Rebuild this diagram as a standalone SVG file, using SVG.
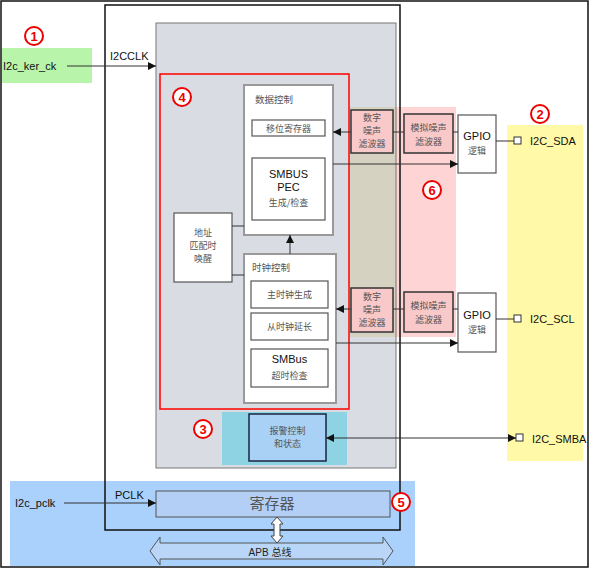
<svg xmlns="http://www.w3.org/2000/svg" width="590" height="570" viewBox="0 0 590 570">
<defs>
<marker id="ah" viewBox="0 0 10 10" refX="10" refY="5" markerWidth="8" markerHeight="8" markerUnits="userSpaceOnUse" orient="auto-start-reverse">
<path d="M0,0 L10,5 L0,10 z" fill="#111"/>
</marker>
<style>
.en{font-family:"Liberation Sans",Arial,sans-serif;font-size:11px;fill:#111}
.zh{font-family:"Noto Sans CJK SC","Noto Sans",sans-serif;font-size:9.5px;fill:#555}
.zhc{font-family:"Noto Sans CJK SC","Noto Sans",sans-serif;font-size:9px;fill:#555;text-anchor:middle}
.enc{font-family:"Liberation Sans",Arial,sans-serif;font-size:11px;fill:#111;text-anchor:middle}
.wbox{fill:#fff;stroke:#555;stroke-width:1.2}
.gbox{fill:#fff;stroke:#999;stroke-width:2}
.filt{fill:#f9c8c8;stroke:#333;stroke-width:1.5}
.ln{stroke:#333;stroke-width:1;fill:none}
.num circle{fill:#fff;stroke:#e00;stroke-width:2}
.num text{font-family:"Liberation Sans",Arial,sans-serif;font-size:13px;font-weight:bold;fill:#e00;text-anchor:middle}
.pin{fill:#fff;stroke:#333;stroke-width:1}
</style>
</defs>
<rect x="1" y="1" width="587" height="566" fill="#fff" stroke="#111" stroke-width="1.5"/>

<g id="regions">
<rect x="2" y="48" width="90" height="35" fill="#b8f5aa"/>
<rect x="507" y="125" width="76" height="336" fill="#fff9a8"/>
<rect x="10" y="481" width="405" height="85" fill="#a9d1fb"/>
</g>

<g id="main">
<rect x="105" y="5" width="295" height="525" fill="none" stroke="#111" stroke-width="1.5"/>
<rect x="156" y="23" width="240" height="445" fill="#d9dde3" stroke="#777" stroke-width="1"/>
</g>

<g id="region6">
<rect x="349" y="107" width="107" height="230" fill="#ffd4d4"/>
<rect x="349" y="107" width="47" height="230" fill="#d6d2c2"/>
<line x1="396" y1="107" x2="396" y2="337" stroke="#777" stroke-width="1"/>
<line x1="400" y1="107" x2="400" y2="337" stroke="#111" stroke-width="1.5"/>
</g>

<g id="region3">
<rect x="222" y="412" width="125" height="53" fill="#8dd3e3"/>
</g>

<g id="region4">
<rect x="160" y="74" width="189" height="335" fill="none" stroke="#f00" stroke-width="1.5"/>
</g>

<g id="data-ctrl">
<rect class="gbox" x="244" y="85" width="89" height="150"/>
<text class="zh" x="255" y="103">数据控制</text>
</g>
<g id="shift-reg">
<rect class="wbox" x="252" y="120" width="73" height="16"/>
<text class="zhc" x="288.5" y="131.5" font-size="9.5">移位寄存器</text>
</g>
<g id="smbus-pec">
<rect class="wbox" x="252" y="158" width="73" height="62"/>
<text class="enc" x="288.5" y="178">SMBUS</text>
<text class="enc" x="288.5" y="191">PEC</text>
<text class="zhc" x="288.5" y="206">生成/检查</text>
</g>
<g id="addr-wake">
<rect class="wbox" x="174" y="213" width="58" height="69" stroke-width="1.5"/>
<text class="zhc" x="203" y="236">地址</text>
<text class="zhc" x="203" y="249">匹配时</text>
<text class="zhc" x="203" y="262">唤醒</text>
</g>
<g id="clk-ctrl">
<rect class="gbox" x="244" y="254" width="92" height="149"/>
<text class="zh" x="252" y="271">时钟控制</text>
</g>
<g id="master-clk">
<rect class="wbox" x="251" y="281" width="77" height="27"/>
<text class="zhc" x="289.5" y="298" font-size="9.5">主时钟生成</text>
</g>
<g id="slave-clk">
<rect class="wbox" x="251" y="313" width="77" height="27"/>
<text class="zhc" x="289.5" y="330" font-size="9.5">从时钟延长</text>
</g>
<g id="smbus-timeout">
<rect class="wbox" x="251" y="349" width="77" height="38"/>
<text class="enc" x="289.5" y="363">SMBus</text>
<text class="zhc" x="289.5" y="379">超时检查</text>
</g>

<g id="dnf-sda">
<rect class="filt" x="351" y="110" width="42" height="43"/>
<text class="zhc" x="372" y="121">数字</text>
<text class="zhc" x="372" y="134">噪声</text>
<text class="zhc" x="372" y="147">滤波器</text>
</g>
<g id="anf-sda">
<rect class="filt" x="404" y="114" width="49" height="39"/>
<text class="zhc" x="428.5" y="131">模拟噪声</text>
<text class="zhc" x="428.5" y="145">滤波器</text>
</g>
<g id="gpio-sda">
<rect class="wbox" x="458" y="115" width="38" height="58" stroke-width="1.5"/>
<text class="enc" x="477" y="140">GPIO</text>
<text class="zhc" x="477" y="154">逻辑</text>
</g>
<g id="dnf-scl">
<rect class="filt" x="351" y="288" width="42" height="44"/>
<text class="zhc" x="372" y="300">数字</text>
<text class="zhc" x="372" y="313">噪声</text>
<text class="zhc" x="372" y="326">滤波器</text>
</g>
<g id="anf-scl">
<rect class="filt" x="404" y="292" width="49" height="40"/>
<text class="zhc" x="428.5" y="309">模拟噪声</text>
<text class="zhc" x="428.5" y="323">滤波器</text>
</g>
<g id="gpio-scl">
<rect class="wbox" x="458" y="293" width="38" height="59" stroke-width="1.5"/>
<text class="enc" x="477" y="319">GPIO</text>
<text class="zhc" x="477" y="333">逻辑</text>
</g>

<g id="alarm">
<rect x="249" y="414" width="77" height="47" fill="#a9d1f5" stroke="#1a2540" stroke-width="1.5"/>
<text class="zhc" x="287.5" y="434">报警控制</text>
<text class="zhc" x="287.5" y="447">和状态</text>
</g>

<g id="register">
<rect x="156" y="491" width="234" height="26" fill="#b3cff6" stroke="#555" stroke-width="1"/>
<text x="272" y="509" font-family="'Noto Sans CJK SC',sans-serif" font-size="15" fill="#555" text-anchor="middle">寄存器</text>
</g>

<g id="apb-bus">
<polygon points="150,551 160,537 160,543 383,543 383,537 393,551 383,565 383,559 160,559 160,565" fill="#b9d6f8" stroke="#555" stroke-width="1"/>
<text x="270" y="556" font-family="'Liberation Sans','Noto Sans CJK SC',sans-serif" font-size="10" fill="#222" text-anchor="middle">APB 总线</text>
<polygon points="277,517 283,524 280,524 280,536 283,536 277,543 271,536 274,536 274,524 271,524" fill="#fff" stroke="#444" stroke-width="1"/>
</g>

<g id="pins">
<rect class="pin" x="514" y="137" width="7" height="7"/>
<text class="en" x="530" y="145">I2C_SDA</text>
<rect class="pin" x="514" y="315" width="7" height="7"/>
<text class="en" x="530" y="323">I2C_SCL</text>
<rect class="pin" x="516" y="434" width="7" height="7"/>
<text class="en" x="532" y="443">I2C_SMBA</text>
</g>

<g id="labels">
<text class="en" x="3" y="70">I2c_ker_ck</text>
<text class="en" x="110" y="60">I2CCLK</text>
<text class="en" x="115" y="499">PCLK</text>
<text class="en" x="15" y="507">I2c_pclk</text>
</g>

<g id="connectors">
<line class="ln" x1="67" y1="66" x2="156" y2="66" marker-end="url(#ah)"/>
<line class="ln" x1="64" y1="503" x2="156" y2="503" marker-end="url(#ah)"/>
<line class="ln" x1="232" y1="226" x2="244" y2="226"/>
<line class="ln" x1="232" y1="275" x2="244" y2="275"/>
<line class="ln" x1="290" y1="254" x2="290" y2="235" marker-end="url(#ah)"/>
<line class="ln" x1="351" y1="132" x2="333" y2="132" marker-end="url(#ah)"/>
<line class="ln" x1="393" y1="132" x2="404" y2="132"/>
<line class="ln" x1="453" y1="132" x2="458" y2="132"/>
<line class="ln" x1="496" y1="141" x2="514" y2="141"/>
<line class="ln" x1="333" y1="164" x2="458" y2="164" marker-end="url(#ah)"/>
<line class="ln" x1="351" y1="309" x2="336" y2="309" marker-end="url(#ah)"/>
<line class="ln" x1="393" y1="309" x2="404" y2="309"/>
<line class="ln" x1="453" y1="309" x2="458" y2="309"/>
<line class="ln" x1="496" y1="319" x2="514" y2="319"/>
<line class="ln" x1="336" y1="343" x2="458" y2="343" marker-end="url(#ah)"/>
<line class="ln" x1="326" y1="438" x2="516" y2="438" marker-start="url(#ah)" marker-end="url(#ah)"/>
</g>

<g id="badges" class="num">
<g id="n1"><circle cx="34" cy="36" r="9"/><text x="34" y="41">1</text></g>
<g id="n2"><circle cx="540" cy="114" r="9"/><text x="540" y="119">2</text></g>
<g id="n3"><circle cx="203" cy="429" r="9"/><text x="203" y="434">3</text></g>
<g id="n4"><circle cx="182" cy="97" r="9"/><text x="182" y="102">4</text></g>
<g id="n5"><circle cx="401" cy="502" r="9"/><text x="401" y="507">5</text></g>
<g id="n6"><circle cx="432" cy="190" r="9"/><text x="432" y="195">6</text></g>
</g>
</svg>
